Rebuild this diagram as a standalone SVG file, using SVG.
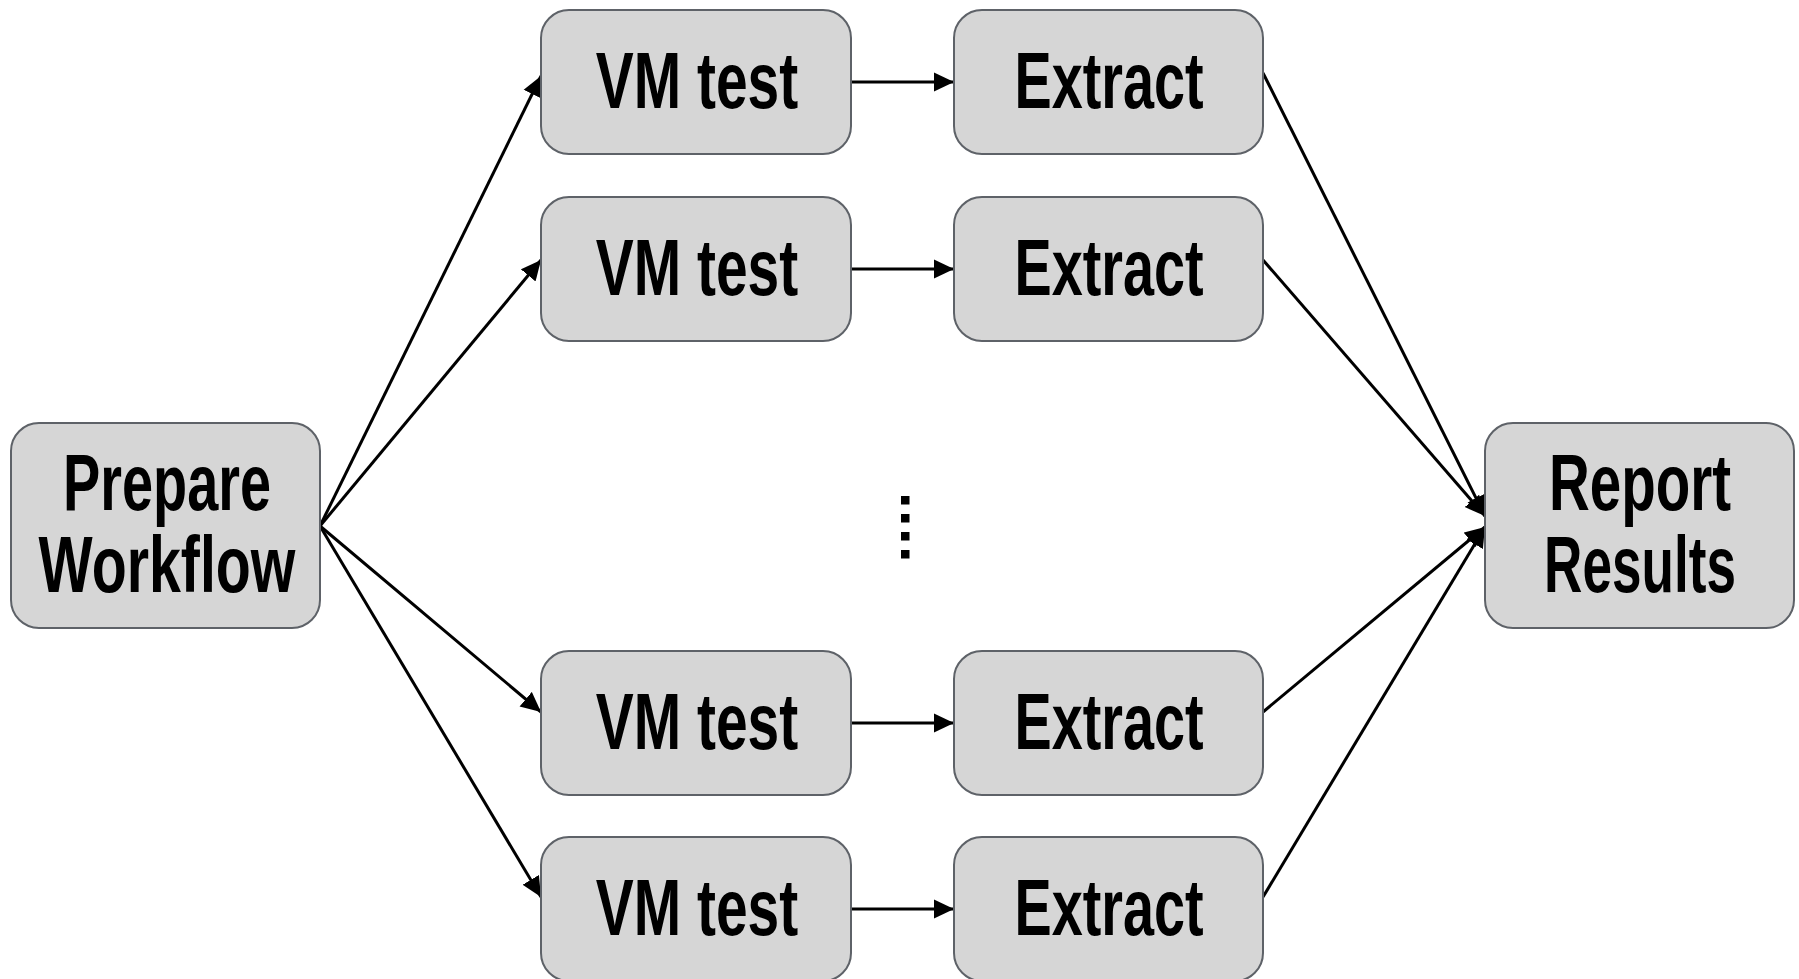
<svg xmlns="http://www.w3.org/2000/svg" width="1799" height="979" viewBox="0 0 1799 979">
<style>
.box{fill:#d6d6d6;stroke:#5e6268;stroke-width:2}
.lbl{font-family:"Liberation Sans",Arial,sans-serif;font-weight:bold;font-size:80px;fill:#000;text-anchor:middle}
.edge{stroke:#000;stroke-width:3;fill:none;marker-end:url(#ah)}
</style>
<defs>
<marker id="ah" viewBox="0 0 20 20" markerWidth="20" markerHeight="20" refX="20" refY="10" orient="auto" markerUnits="userSpaceOnUse">
<path d="M0,0.5 L20,10 L0,19.5 z" fill="#000"/>
</marker>
</defs>
<rect width="1799" height="979" fill="#fff"/>
<g id="connectors">
<line class="edge" x1="320" y1="526" x2="541" y2="76"/>
<line class="edge" x1="320" y1="526" x2="541" y2="260"/>
<line class="edge" x1="320" y1="526" x2="541" y2="712"/>
<line class="edge" x1="320" y1="526" x2="541" y2="897"/>
<line class="edge" x1="851" y1="82" x2="954" y2="82"/>
<line class="edge" x1="851" y1="269" x2="954" y2="269"/>
<line class="edge" x1="851" y1="723" x2="954" y2="723"/>
<line class="edge" x1="851" y1="909" x2="954" y2="909"/>
<line class="edge" x1="1263" y1="73" x2="1485" y2="516"/>
<line class="edge" x1="1263" y1="260" x2="1485" y2="516"/>
<line class="edge" x1="1263" y1="712" x2="1485" y2="527"/>
<line class="edge" x1="1263" y1="897" x2="1485" y2="527"/>
</g>
<g id="prepare">
<rect class="box" x="11" y="423" width="309" height="205" rx="28"/>
<text class="lbl" transform="translate(167,510) scale(0.7,1)" x="0" y="0" textLength="297" lengthAdjust="spacingAndGlyphs">Prepare</text>
<text class="lbl" transform="translate(167,592) scale(0.7,1)" x="0" y="0" textLength="367" lengthAdjust="spacingAndGlyphs">Workflow</text>
</g>
<g id="vm1">
<rect class="box" x="541" y="10" width="310" height="144" rx="28"/>
<text class="lbl" transform="translate(697,108) scale(0.7,1)" x="0" y="0" textLength="289" lengthAdjust="spacingAndGlyphs">VM test</text>
</g>
<g id="vm2">
<rect class="box" x="541" y="197" width="310" height="144" rx="28"/>
<text class="lbl" transform="translate(697,295) scale(0.7,1)" x="0" y="0" textLength="289" lengthAdjust="spacingAndGlyphs">VM test</text>
</g>
<g id="vm3">
<rect class="box" x="541" y="651" width="310" height="144" rx="28"/>
<text class="lbl" transform="translate(697,749) scale(0.7,1)" x="0" y="0" textLength="289" lengthAdjust="spacingAndGlyphs">VM test</text>
</g>
<g id="vm4">
<rect class="box" x="541" y="837" width="310" height="144" rx="28"/>
<text class="lbl" transform="translate(697,935) scale(0.7,1)" x="0" y="0" textLength="289" lengthAdjust="spacingAndGlyphs">VM test</text>
</g>
<g id="extract1">
<rect class="box" x="954" y="10" width="309" height="144" rx="28"/>
<text class="lbl" transform="translate(1109,108) scale(0.7,1)" x="0" y="0" textLength="270" lengthAdjust="spacingAndGlyphs">Extract</text>
</g>
<g id="extract2">
<rect class="box" x="954" y="197" width="309" height="144" rx="28"/>
<text class="lbl" transform="translate(1109,295) scale(0.7,1)" x="0" y="0" textLength="270" lengthAdjust="spacingAndGlyphs">Extract</text>
</g>
<g id="extract3">
<rect class="box" x="954" y="651" width="309" height="144" rx="28"/>
<text class="lbl" transform="translate(1109,749) scale(0.7,1)" x="0" y="0" textLength="270" lengthAdjust="spacingAndGlyphs">Extract</text>
</g>
<g id="extract4">
<rect class="box" x="954" y="837" width="309" height="144" rx="28"/>
<text class="lbl" transform="translate(1109,935) scale(0.7,1)" x="0" y="0" textLength="270" lengthAdjust="spacingAndGlyphs">Extract</text>
</g>
<g id="report">
<rect class="box" x="1485" y="423" width="309" height="205" rx="28"/>
<text class="lbl" transform="translate(1640,510) scale(0.7,1)" x="0" y="0" textLength="260" lengthAdjust="spacingAndGlyphs">Report</text>
<text class="lbl" transform="translate(1640,592) scale(0.7,1)" x="0" y="0" textLength="274" lengthAdjust="spacingAndGlyphs">Results</text>
</g>
<g id="ellipsis" fill="#000">
<rect x="901" y="496" width="8.5" height="8.5"/>
<rect x="901" y="514" width="8.5" height="8.5"/>
<rect x="901" y="532" width="8.5" height="8.5"/>
<rect x="901" y="550" width="8.5" height="8.5"/>
</g>
</svg>
